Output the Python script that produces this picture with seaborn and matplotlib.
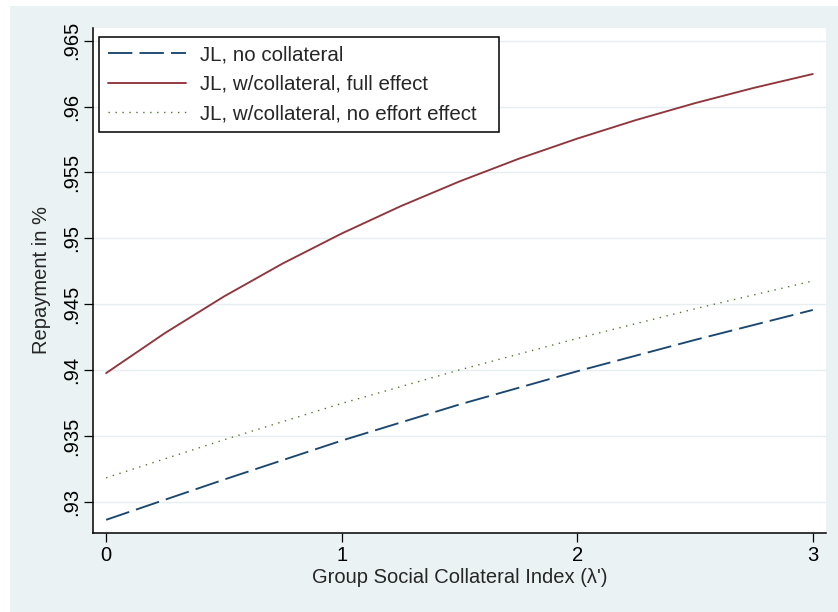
import numpy as np
import pandas as pd
import matplotlib
matplotlib.use("Agg")
import matplotlib.pyplot as plt
import seaborn as sns
from matplotlib.patches import Rectangle

# Repayment rate as a function of the group social collateral index
lam_fine = [0.0, 0.25, 0.5, 0.75, 1.0, 1.25, 1.5, 1.75, 2.0, 2.25, 2.5, 2.75, 3.0]
full_effect = [0.93978, 0.94282, 0.94559, 0.94810, 0.95037, 0.95244, 0.95432,
               0.95603, 0.95757, 0.95898, 0.96026, 0.96142, 0.96247]

lam = [0.0, 0.5, 1.0, 1.5, 2.0, 2.5, 3.0]
no_collateral = [0.92865, 0.93170, 0.93466, 0.93740, 0.93992, 0.94230, 0.94457]
no_effort = [0.93184, 0.93472, 0.93748, 0.94002, 0.94241, 0.94466, 0.94677]

series_labels = ["JL, no collateral",
                 "JL, w/collateral, full effect",
                 "JL, w/collateral, no effort effect"]
x_ticks = [0, 1, 2, 3]
y_ticks = [0.93, 0.935, 0.94, 0.945, 0.95, 0.955, 0.96, 0.965]
y_ticklabels = [".93", ".935", ".94", ".945", ".95", ".955", ".96", ".965"]

df_nc = pd.DataFrame({"lam": lam, "rep": no_collateral})
df_fe = pd.DataFrame({"lam": lam_fine, "rep": full_effect})
df_ne = pd.DataFrame({"lam": lam, "rep": no_effort})

sns.set_theme(style="white")
plt.rcParams["font.family"] = ["Liberation Sans", "DejaVu Sans"]

W, H = 838, 612
fig = plt.figure(figsize=(W / 100, H / 100), dpi=100, facecolor="white")

# graph region background
bg = "#eaf2f3"
fig.patches.append(Rectangle((10 / W, 0), 1, 1 - 6 / H, transform=fig.transFigure,
                             facecolor=bg, edgecolor="none", zorder=-10))

ax = fig.add_axes([92.7 / W, 1 - 533 / H, (826 - 92.7) / W, (533 - 28) / H])
ax.set_facecolor("white")

navy = "#1a476f"
maroon = "#90353b"
green = "#55752f"

sns.lineplot(data=df_nc, x="lam", y="rep", ax=ax, color=navy, lw=1.35,
             label=series_labels[0])
ax.lines[-1].set_dashes((13, 3.8))
sns.lineplot(data=df_fe, x="lam", y="rep", ax=ax, color=maroon, lw=1.35,
             label=series_labels[1])
sns.lineplot(data=df_ne, x="lam", y="rep", ax=ax, color=green, lw=1.0,
             label=series_labels[2])
ax.lines[-1].set_dashes((1.0, 4.0))

ax.set_xlim(-0.057, 3.056)
ax.set_ylim(0.92765, 0.96596)

ax.set_xticks(x_ticks)
ax.set_xticklabels([str(t) for t in x_ticks])
ax.set_yticks(y_ticks)
ax.set_yticklabels(y_ticklabels, rotation=90, va="center")

ax.grid(axis="y", color="#e6eef0", lw=1.0)
ax.grid(axis="x", visible=False)
for s in ["top", "right"]:
    ax.spines[s].set_visible(False)
for s in ["left", "bottom"]:
    ax.spines[s].set_color("black")
    ax.spines[s].set_linewidth(1.1)

fs = 14.5
ax.tick_params(axis="both", which="major", direction="out", length=6.2, width=0.9,
               color="black", labelsize=fs, labelcolor="black",
               left=True, bottom=True, pad=3)
ax.tick_params(axis="y", pad=2)

ax.set_xlabel("Group Social Collateral Index (\u03bb')", fontsize=fs, labelpad=2)
ax.set_ylabel("Repayment in %", fontsize=fs, labelpad=8)

# legend box spanning a fixed width in the upper-left corner
ax_w, ax_h = 826 - 92.7, 533 - 28
lx0 = (99 - 92.7) / ax_w
lx1 = (499 - 92.7) / ax_w
ltop = (533 - 37) / ax_h
handles, labels = ax.get_legend_handles_labels()
leg = ax.legend(handles, labels, loc="upper left", mode="expand",
                bbox_to_anchor=(lx0, ltop - 0.2, lx1 - lx0, 0.2),
                borderaxespad=0, fontsize=14.8, handlelength=3.8,
                handletextpad=0.7, labelspacing=0.5, borderpad=0.42,
                frameon=True, fancybox=False, framealpha=1, edgecolor="black")
leg.get_frame().set_linewidth(1.1)

fig.savefig("out.png", dpi=100, facecolor=fig.get_facecolor())
